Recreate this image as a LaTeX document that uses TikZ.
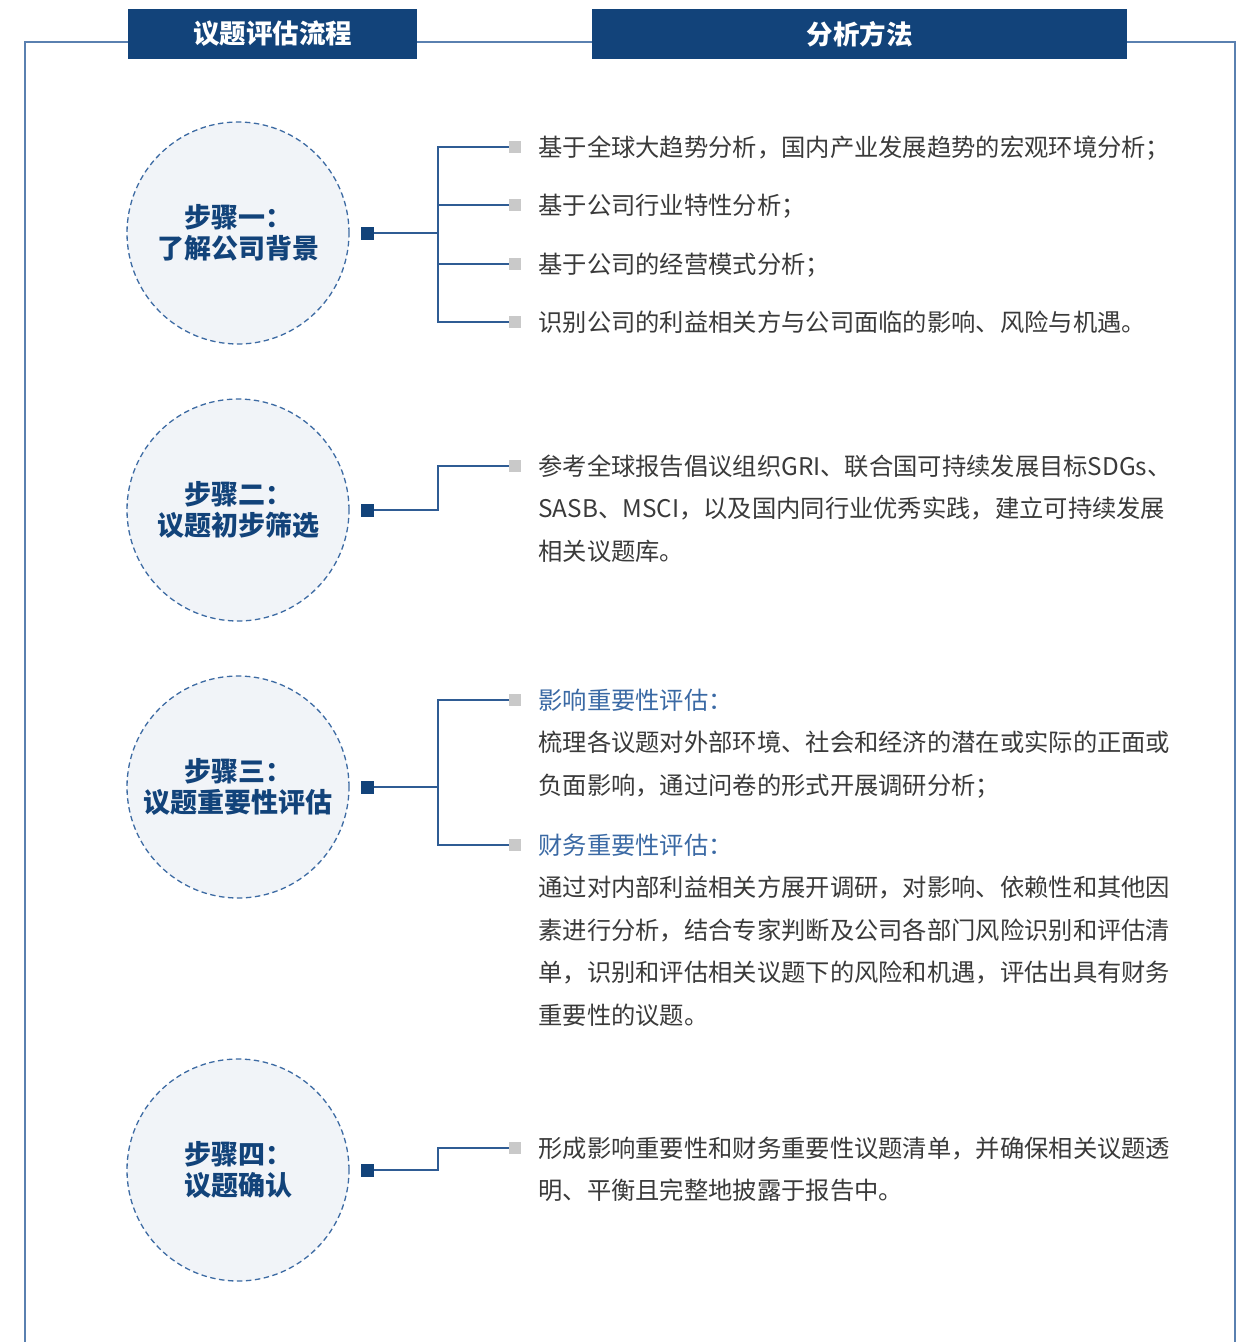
\documentclass[tikz,border=0pt]{standalone}
\usepackage{fontspec}
\setmainfont{Noto Sans CJK SC}
\usetikzlibrary{positioning}
\definecolor{DarkNavy}{HTML}{12437A}
\definecolor{FrameBlue}{HTML}{5A80B0}
\definecolor{LineBlue}{HTML}{2F5C94}
\definecolor{CircleBlue}{HTML}{3D6BA3}
\definecolor{CircleFill}{HTML}{F1F4F8}
\definecolor{BulletGray}{HTML}{C9C9C9}
\definecolor{BodyGray}{HTML}{3A3A3A}
\definecolor{HeadBlue}{HTML}{3A69A4}
\begin{document}
\begin{tikzpicture}
   [x=1pt,y=-1pt,
   frameline/.style={draw=FrameBlue,line width=1.5pt},
   header/.style={fill=DarkNavy,text=white,font=\fontsize{26.5}{30}\selectfont\bfseries,minimum width=#1,minimum height=50pt,inner sep=0pt},
   stepcircle/.style={circle,draw=CircleBlue,dash pattern=on 5.5pt off 3.5pt,line width=1.3pt,fill=CircleFill,minimum size=222pt,inner sep=0pt,align=center,text=DarkNavy,font=\fontsize{27}{31}\selectfont\bfseries},
   marker/.style={fill=DarkNavy,minimum size=13pt,inner sep=0pt},
   bullet/.style={fill=BulletGray,minimum size=12pt,inner sep=0pt},
   conn/.style={draw=LineBlue,line width=1.5pt},
   item/.style={anchor=base west,inner sep=0pt,text width=660pt,align=left,text=BodyGray,font=\fontsize{24.3}{42.6}\selectfont}]
    \useasboundingbox (0,0) rectangle (1243,1342);
    \node[header=289pt] (hd1) at (272.5,34) {议题评估流程};
    \node[header=535pt] (hd2) at (859.5,34) {分析方法};
    \coordinate (fl) at (25,1342);
    \coordinate (fr) at (1235,1342);
    \draw[frameline] (fl) |- ([yshift=-8pt]hd1.west);
    \draw[frameline] ([yshift=-8pt]hd1.east) -- ([yshift=-8pt]hd2.west);
    \draw[frameline] ([yshift=-8pt]hd2.east) -| (fr);

    \node[stepcircle] (s1) at (238,233) {步骤一：\\了解公司背景};
    \node[marker] (m1) at (367.5,233) {};
    \coordinate (j1) at (438,233);
    \foreach \i/\y in {1/147,2/205,3/264,4/322}
        \node[bullet] (b1\i) at (515,\y) {};
    \draw[conn] (m1) -- (j1);
    \foreach \i in {1,...,4}
        \draw[conn] (j1) |- (b1\i.west);
    \node[item] (t11) at ([xshift=17pt,yshift=-9pt]b11.east) {基于全球大趋势分析，国内产业发展趋势的宏观环境分析；};
    \node[item] (t12) at ([xshift=17pt,yshift=-9pt]b12.east) {基于公司行业特性分析；};
    \node[item] (t13) at ([xshift=17pt,yshift=-9pt]b13.east) {基于公司的经营模式分析；};
    \node[item] (t14) at ([xshift=17pt,yshift=-9pt]b14.east) {识别公司的利益相关方与公司面临的影响、风险与机遇。};

    \node[stepcircle] (s2) at (238,510) {步骤二：\\议题初步筛选};
    \node[marker] (m2) at (367.5,510) {};
    \coordinate (j2) at (438,510);
    \node[bullet] (b21) at (515,466) {};
    \draw[conn] (m2) -- (j2) |- (b21.west);
    \node[item] (t21) at ([xshift=17pt,yshift=-9pt]b21.east) {参考全球报告倡议组织GRI、联合国可持续发展目标SDGs、\\SASB、MSCI，以及国内同行业优秀实践，建立可持续发展\\相关议题库。};

    \node[stepcircle] (s3) at (238,787) {步骤三：\\议题重要性评估};
    \node[marker] (m3) at (367.5,787) {};
    \coordinate (j3) at (438,787);
    \node[bullet] (b31) at (515,700) {};
    \node[bullet] (b32) at (515,845) {};
    \draw[conn] (m3) -- (j3);
    \draw[conn] (j3) |- (b31.west);
    \draw[conn] (j3) |- (b32.west);
    \node[item] (t31) at ([xshift=17pt,yshift=-9pt]b31.east) {\textcolor{HeadBlue}{影响重要性评估：}\\梳理各议题对外部环境、社会和经济的潜在或实际的正面或\\负面影响，通过问卷的形式开展调研分析；};
    \node[item] (t32) at ([xshift=17pt,yshift=-9pt]b32.east) {\textcolor{HeadBlue}{财务重要性评估：}\\通过对内部利益相关方展开调研，对影响、依赖性和其他因\\素进行分析，结合专家判断及公司各部门风险识别和评估清\\单，识别和评估相关议题下的风险和机遇，评估出具有财务\\重要性的议题。};

    \node[stepcircle] (s4) at (238,1170) {步骤四：\\议题确认};
    \node[marker] (m4) at (367.5,1170) {};
    \coordinate (j4) at (438,1170);
    \node[bullet] (b41) at (515,1148) {};
    \draw[conn] (m4) -- (j4) |- (b41.west);
    \node[item] (t41) at ([xshift=17pt,yshift=-9pt]b41.east) {形成影响重要性和财务重要性议题清单，并确保相关议题透\\明、平衡且完整地披露于报告中。};
\end{tikzpicture}
\end{document}
